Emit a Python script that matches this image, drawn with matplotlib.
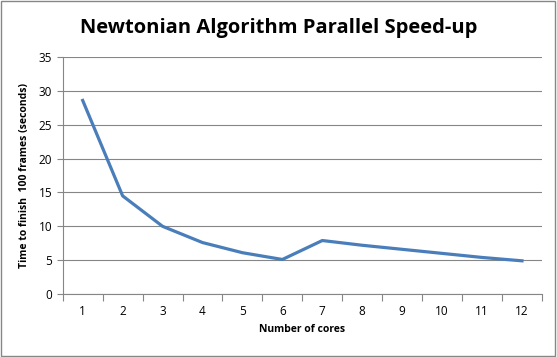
import matplotlib.pyplot as plt
import numpy as np
from matplotlib.patches import Rectangle

cores = [1, 2, 3, 4, 5, 6, 7, 8, 9, 10, 11, 12]
seconds = [28.6, 14.5, 10.0, 7.6, 6.1, 5.1, 7.9, 7.2, 6.6, 6.0, 5.4, 4.9]

plt.rcParams['font.family'] = ['Open Sans', 'DejaVu Sans']

fig = plt.figure(figsize=(5.57, 3.57), dpi=100)
ax = fig.add_axes([0.1126, 0.1765, 0.8604, 0.6635])

ax.plot(cores, seconds, color='#4A7EBB', linewidth=2.3, solid_joinstyle='round')

ax.set_xlim(0.5, 12.5)
ax.set_ylim(0, 35)
ax.set_yticks(np.arange(0, 36, 5))
ax.yaxis.grid(True, color='#868686', linewidth=0.8)
ax.set_axisbelow(True)

# tick marks between categories, labels at centres
ax.set_xticks(np.arange(0.5, 13, 1))
ax.set_xticklabels([])
ax.set_xticks(cores, minor=True)
ax.set_xticklabels([str(c) for c in cores], minor=True)
ax.tick_params(axis='x', which='major', length=5, color='#868686', direction='out')
ax.tick_params(axis='x', which='minor', length=0, labelsize=8.5, pad=8)
ax.tick_params(axis='y', length=4, color='#868686', labelsize=8.5)

for s in ['top', 'right']:
    ax.spines[s].set_visible(False)
ax.spines['left'].set_color('#868686')
ax.spines['bottom'].set_color('#868686')

ax.set_xlabel('Number of cores', fontsize=7.5, fontweight='bold', labelpad=4)
ax.set_ylabel('Time to finish  100 frames (seconds)', fontsize=7.5, fontweight='bold', labelpad=6)

fig.text(0.5, 0.922, 'Newtonian Algorithm Parallel Speed-up', ha='center', va='center',
         fontsize=14.5, fontweight='bold')

fig.patches.append(Rectangle((0.002, 0.003), 0.995, 0.994, transform=fig.transFigure,
                             fill=False, edgecolor='#868686', linewidth=1))

fig.savefig('out.png', dpi=100)
